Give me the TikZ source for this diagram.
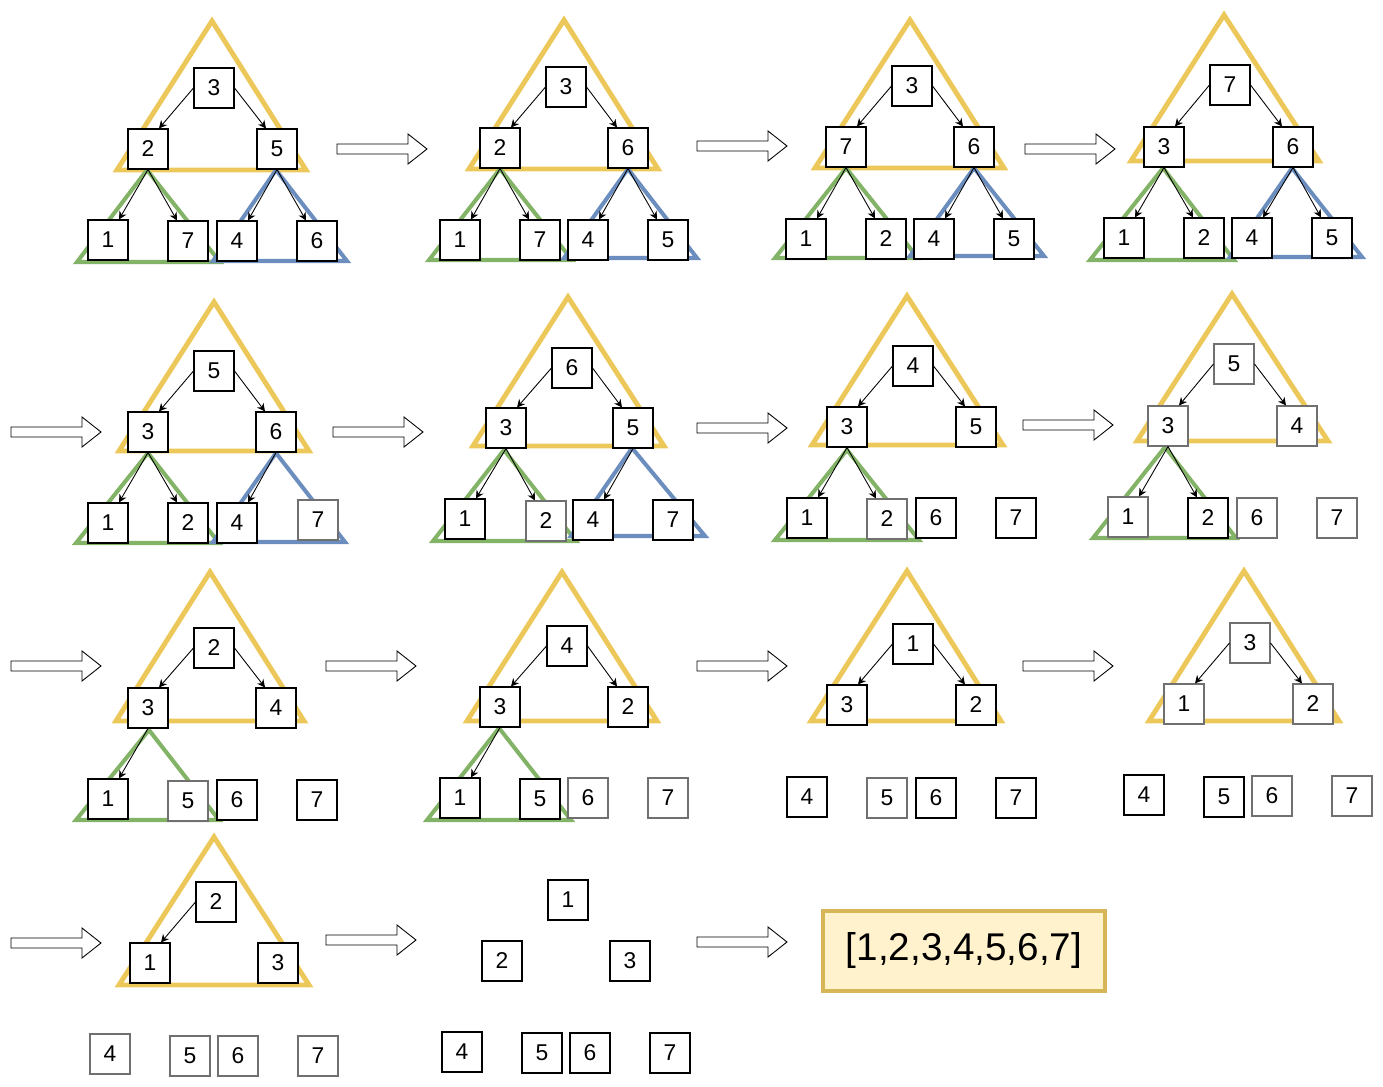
\documentclass[tikz,border=0pt]{standalone}
\usepackage{fontspec}
\setmainfont{Liberation Sans}
\usetikzlibrary{arrows.meta}

\definecolor{heapyellow}{HTML}{ECC85B}
\definecolor{subgreen}{HTML}{82B366}
\definecolor{subblue}{HTML}{6C8EBF}
\definecolor{donegray}{HTML}{707070}
\definecolor{resultfill}{HTML}{FFF2CC}
\definecolor{resultline}{HTML}{D6B656}

\tikzset{
  key/.style={draw, fill=white, line width=0.6pt, minimum size=0.8cm, inner sep=0pt,
    font=\fontsize{13}{15}\selectfont},
  done/.style={key, draw=donegray},
  link/.style={-{Stealth[length=4.5pt,width=4.5pt]}, line width=0.5pt},
  heap/.style={draw=heapyellow, line width=2.8pt, line join=miter},
  lsub/.style={draw=subgreen, line width=2.3pt, line join=miter},
  rsub/.style={draw=subblue, line width=2.3pt, line join=miter},
  nextarrow/.pic={
    \draw[fill=white, line width=0.5pt] (0,5) -- (71,5) -- (71,15) -- (90,0)
      -- (71,-15) -- (71,-5) -- (0,-5) -- cycle;
  },
}

\begin{document}
\begin{tikzpicture}[x=0.02cm, y=-0.02cm]
    \useasboundingbox (0,0) rectangle (1383,1087);

    % heap triangles
    \draw[heap] (212,21) -- (117,170) -- (306,170) -- cycle;
    \draw[lsub] (147,170) -- (77,262) -- (220,262) -- cycle;
    \draw[rsub] (276,170) -- (213,261) -- (347,261) -- cycle;

    \draw[heap] (564,20) -- (469,169) -- (658,169) -- cycle;
    \draw[lsub] (500,169) -- (429,260) -- (572,260) -- cycle;
    \draw[rsub] (628,169) -- (564,258) -- (697,258) -- cycle;

    \draw[heap] (910,20) -- (815,168) -- (1004,168) -- cycle;
    \draw[lsub] (846,168) -- (775,258) -- (918,258) -- cycle;
    \draw[rsub] (974,168) -- (910,256) -- (1044,256) -- cycle;

    \draw[heap] (1224,15) -- (1131,161) -- (1319,161) -- cycle;
    \draw[lsub] (1163,168) -- (1090,260) -- (1234,260) -- cycle;
    \draw[rsub] (1292,168) -- (1230,257) -- (1362,257) -- cycle;

    \draw[heap] (214,302) -- (119,451) -- (309,451) -- cycle;
    \draw[lsub] (148,453) -- (76,543) -- (219,543) -- cycle;
    \draw[rsub] (276,453) -- (213,542) -- (345,542) -- cycle;

    \draw[heap] (568,297) -- (473,446) -- (664,446) -- cycle;
    \draw[lsub] (504,450) -- (433,541) -- (576,541) -- cycle;
    \draw[rsub] (632,448) -- (571,536) -- (705,536) -- cycle;

    \draw[heap] (907,296) -- (812,445) -- (1003,445) -- cycle;
    \draw[lsub] (847,450) -- (775,540) -- (919,540) -- cycle;

    \draw[heap] (1232,294) -- (1137,441) -- (1328,441) -- cycle;
    \draw[lsub] (1165,447) -- (1093,538) -- (1236,538) -- cycle;

    \draw[heap] (210,572) -- (116,721) -- (304,721) -- cycle;
    \draw[lsub] (149,730) -- (76,820) -- (219,820) -- cycle;

    \draw[heap] (562,572) -- (467,721) -- (657,721) -- cycle;
    \draw[lsub] (499,728) -- (427,820) -- (571,820) -- cycle;

    \draw[heap] (907,571) -- (811,721) -- (1001,721) -- cycle;
    \draw[heap] (1244,571) -- (1149,721) -- (1339,721) -- cycle;
    \draw[heap] (214,837) -- (119,985) -- (309,985) -- cycle;

    % row 1
    \node[key] (a3) at (214,88) {3};
    \node[key] (a2) at (148,149) {2};
    \node[key] (a5) at (277,149) {5};
    \node[key] (a1) at (108,240) {1};
    \node[key] (a7) at (188,241) {7};
    \node[key] (a4) at (237,241) {4};
    \node[key] (a6) at (317,241) {6};

    \node[key] (b3) at (566,87) {3};
    \node[key] (b2) at (500,148) {2};
    \node[key] (b6) at (628,148) {6};
    \node[key] (b1) at (460,240) {1};
    \node[key] (b7) at (540,240) {7};
    \node[key] (b4) at (588,240) {4};
    \node[key] (b5) at (668,240) {5};

    \node[key] (c3) at (912,86) {3};
    \node[key] (c7) at (846,147) {7};
    \node[key] (c6) at (974,147) {6};
    \node[key] (c1) at (806,239) {1};
    \node[key] (c2) at (886,239) {2};
    \node[key] (c4) at (934,239) {4};
    \node[key] (c5) at (1014,239) {5};

    \node[key] (d7) at (1230,85) {7};
    \node[key] (d3) at (1164,147) {3};
    \node[key] (d6) at (1293,147) {6};
    \node[key] (d1) at (1124,238) {1};
    \node[key] (d2) at (1204,238) {2};
    \node[key] (d4) at (1252,238) {4};
    \node[key] (d5) at (1332,238) {5};

    % row 2
    \node[key] (e5) at (214,371) {5};
    \node[key] (e3) at (148,432) {3};
    \node[key] (e6) at (276,432) {6};
    \node[key] (e1) at (108,523) {1};
    \node[key] (e2) at (188,523) {2};
    \node[key] (e4) at (237,523) {4};
    \node[done] (e7) at (318,520) {7};

    \node[key] (f6) at (572,368) {6};
    \node[key] (f3) at (506,428) {3};
    \node[key] (f5) at (633,428) {5};
    \node[key] (f1) at (465,519) {1};
    \node[done] (f2) at (546,521) {2};
    \node[key] (f4) at (593,520) {4};
    \node[key] (f7) at (673,520) {7};

    \node[key] (g4) at (913,366) {4};
    \node[key] (g3) at (847,427) {3};
    \node[key] (g5) at (976,427) {5};
    \node[key] (g1) at (807,518) {1};
    \node[done] (g2) at (887,519) {2};
    \node[key] (g6) at (936,518) {6};
    \node[key] (g7) at (1016,518) {7};

    \node[done] (h5) at (1234,364) {5};
    \node[done] (h3) at (1168,426) {3};
    \node[done] (h4) at (1297,426) {4};
    \node[done] (h1) at (1128,517) {1};
    \node[key] (h2) at (1208,518) {2};
    \node[done] (h6) at (1257,518) {6};
    \node[done] (h7) at (1337,518) {7};

    % row 3
    \node[key] (i2) at (214,648) {2};
    \node[key] (i3) at (148,708) {3};
    \node[key] (i4) at (276,708) {4};
    \node[key] (i1) at (108,799) {1};
    \node[done] (i5) at (188,801) {5};
    \node[key] (i6) at (237,800) {6};
    \node[key] (i7) at (317,800) {7};

    \node[key] (j4) at (567,646) {4};
    \node[key] (j3) at (500,707) {3};
    \node[key] (j2) at (628,707) {2};
    \node[key] (j1) at (460,798) {1};
    \node[key] (j5) at (540,799) {5};
    \node[done] (j6) at (588,798) {6};
    \node[done] (j7) at (668,798) {7};

    \node[key] (k1) at (913,644) {1};
    \node[key] (k3) at (847,705) {3};
    \node[key] (k2) at (976,705) {2};
    \node[key] (k4) at (807,797) {4};
    \node[done] (k5) at (887,798) {5};
    \node[key] (k6) at (936,798) {6};
    \node[key] (k7) at (1016,798) {7};

    \node[done] (l3) at (1250,643) {3};
    \node[done] (l1) at (1184,704) {1};
    \node[done] (l2) at (1313,704) {2};
    \node[key] (l4) at (1144,795) {4};
    \node[key] (l5) at (1224,797) {5};
    \node[done] (l6) at (1272,796) {6};
    \node[done] (l7) at (1352,796) {7};

    % row 4
    \node[key] (m2) at (216,902) {2};
    \node[key] (m1) at (150,963) {1};
    \node[key] (m3) at (278,963) {3};
    \node[done] (m4) at (110,1054) {4};
    \node[done] (m5) at (190,1056) {5};
    \node[done] (m6) at (238,1056) {6};
    \node[done] (m7) at (318,1056) {7};

    \node[key] (n1) at (568,900) {1};
    \node[key] (n2) at (502,961) {2};
    \node[key] (n3) at (630,961) {3};
    \node[key] (n4) at (462,1052) {4};
    \node[key] (n5) at (542,1053) {5};
    \node[key] (n6) at (590,1053) {6};
    \node[key] (n7) at (670,1053) {7};

    \node[draw=resultline, fill=resultfill, line width=2.3pt, minimum width=5.64cm,
      minimum height=1.6cm, font=\fontsize{22}{26}\selectfont] (result) at (964,951) {[1,2,3,4,5,6,7]};

    % tree edges
    \foreach \p/\c in {a3/a2,b3/b2,c3/c7,d7/d3,e5/e3,f6/f3,g4/g3,h5/h3,i2/i3,j4/j3,k1/k3,l3/l1,m2/m1}
      \draw[link] (\p.west) -- ([xshift=0.22cm]\c.north);
    \foreach \p/\c in {a3/a5,b3/b6,c3/c6,d7/d6,e5/e6,f6/f5,g4/g5,h5/h4,i2/i4,j4/j2,k1/k2,l3/l2}
      \draw[link] (\p.east) -- ([xshift=-0.22cm]\c.north);
    \foreach \p/\c in {a2/a1,a5/a4,b2/b1,b6/b4,c7/c1,c6/c4,d3/d1,d6/d4,e3/e1,e6/e4,f3/f1,f5/f4,g3/g1,h3/h1,i3/i1,j3/j1}
      \draw[link] (\p.south) -- ([xshift=0.22cm]\c.north);
    \foreach \p/\c in {a2/a7,a5/a6,b2/b7,b6/b5,c7/c2,c6/c5,d3/d2,d6/d5,e3/e2,f3/f2,g3/g2,h3/h2}
      \draw[link] (\p.south) -- ([xshift=-0.22cm]\c.north);

    % step arrows
    \pic at (337,149) {nextarrow};
    \pic at (697,146) {nextarrow};
    \pic at (1025,149) {nextarrow};
    \pic at (11,432) {nextarrow};
    \pic at (333,432) {nextarrow};
    \pic at (697,428) {nextarrow};
    \pic at (1023,425) {nextarrow};
    \pic at (11,666) {nextarrow};
    \pic at (326,666) {nextarrow};
    \pic at (697,666) {nextarrow};
    \pic at (1023,666) {nextarrow};
    \pic at (11,943) {nextarrow};
    \pic at (326,940) {nextarrow};
    \pic at (697,942) {nextarrow};
\end{tikzpicture}
\end{document}
